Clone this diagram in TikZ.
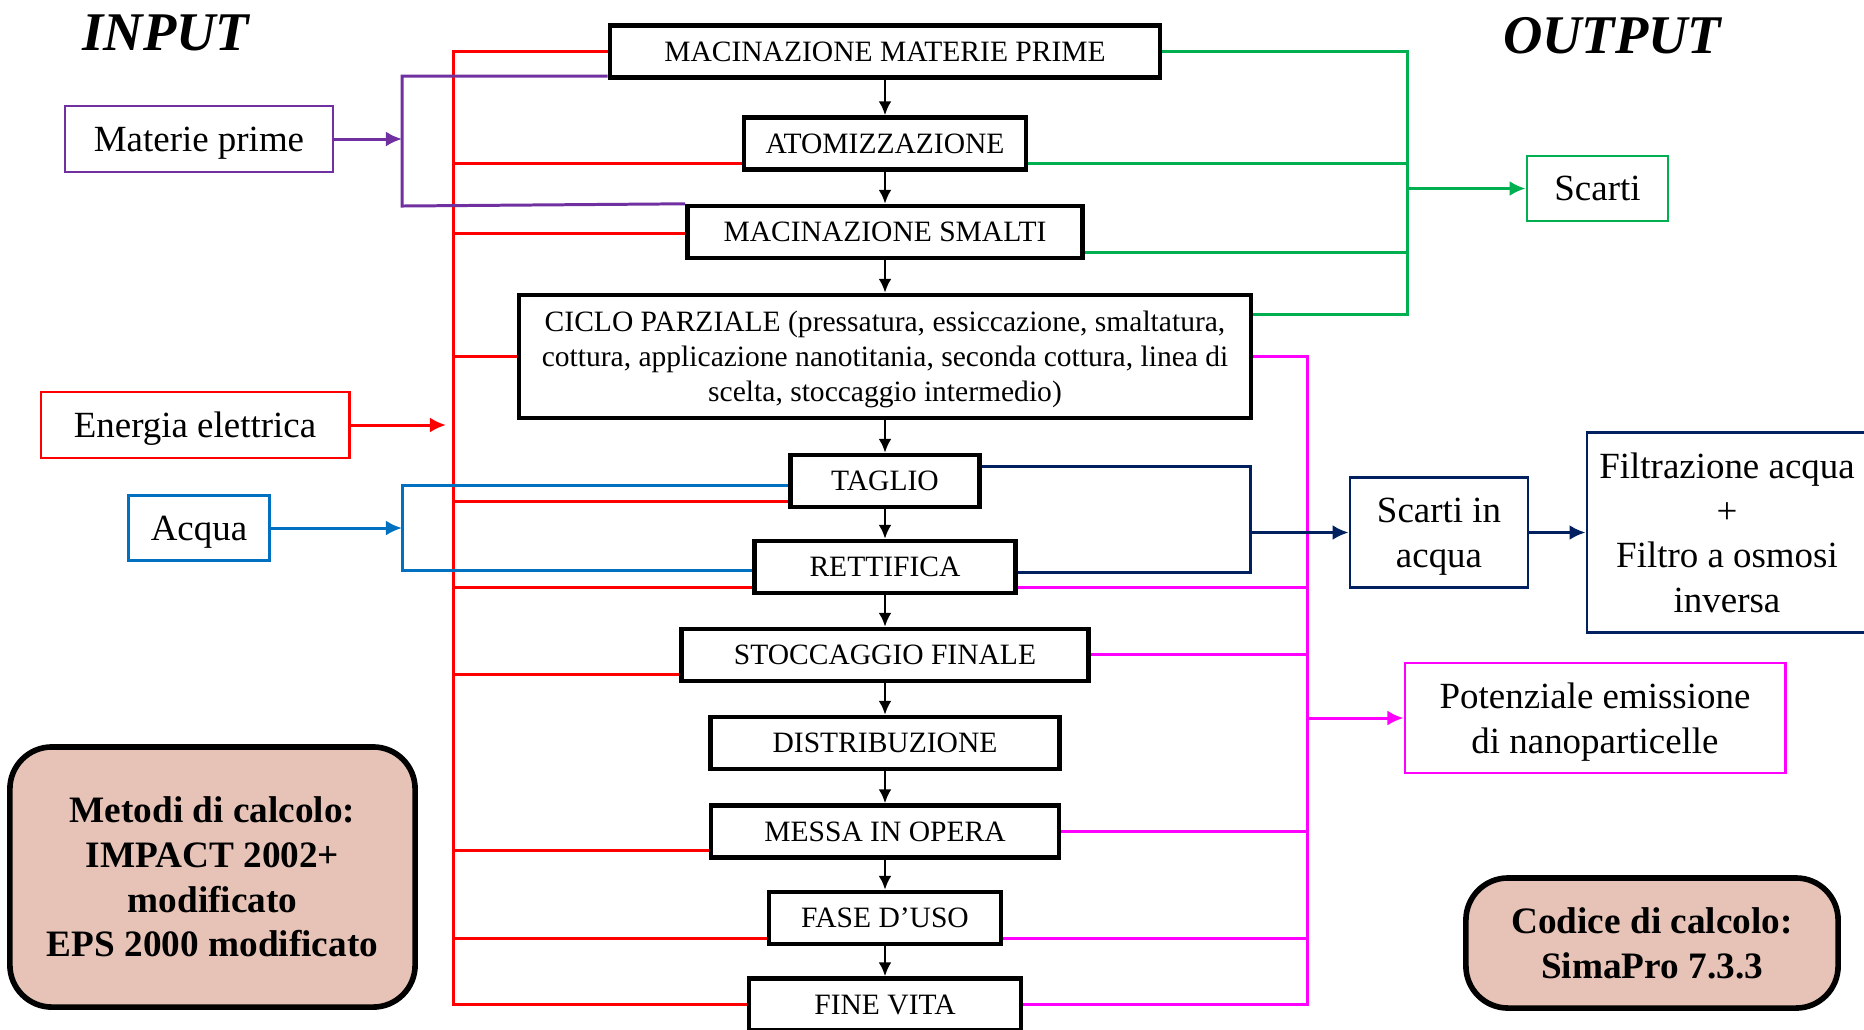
\documentclass[tikz,border=0pt]{standalone}
\usepackage{fontspec}
\setmainfont{Liberation Serif}
\usepackage{xcolor}
\usetikzlibrary{arrows.meta,positioning,calc}
\definecolor{ered}{RGB}{255,0,0}
\definecolor{matviolet}{RGB}{112,48,160}
\definecolor{wblue}{RGB}{0,112,192}
\definecolor{sgreen}{RGB}{0,176,80}
\definecolor{navy}{RGB}{0,32,96}
\definecolor{nmagenta}{RGB}{255,0,255}
\definecolor{boxrose}{RGB}{230,195,182}

\begin{document}
\begin{tikzpicture}[x=0.01cm,y=-0.01cm,
	phase/.style={draw,line width=1.25pt,minimum height=0.52cm,inner sep=0pt,text depth=0pt,font=\fontsize{8.4}{10}\selectfont},
	sidebox/.style={draw,line width=0.8pt,inner sep=0pt,text depth=0pt,align=center,font=\fontsize{10.5}{12.7}\selectfont},
	calcbox/.style={draw,line width=1.6pt,rounded corners=0.42cm,fill=boxrose,inner sep=0pt,align=center,font=\bfseries\fontsize{10.6}{12.7}\selectfont},
	title/.style={font=\bfseries\itshape\fontsize{15.5}{18}\selectfont},
	flow/.style={-{Latex[length=1.4mm,width=1.3mm]},line width=0.8pt},
	feed/.style={line width=0.85pt},
	tip/.style={-{Latex[length=1.6mm,width=1.5mm]}}]
	\useasboundingbox (0,0) rectangle (1864,1029);
	
	\node[title] (input) at (166,33) {INPUT};
	\node[title] (output) at (1612,36) {OUTPUT};
	
	% process chain
	\node[phase,minimum width=5.5cm] (mmp) at (885,51.5) {MACINAZIONE MATERIE PRIME};
	\node[phase,minimum width=2.82cm] (atom) at (885,143.5) {ATOMIZZAZIONE};
	\node[phase,minimum width=3.95cm] (smalti) at (885,232) {MACINAZIONE SMALTI};
	\node[phase,minimum width=7.31cm,minimum height=1.23cm,align=center] (ciclo) at (885,356.5) {CICLO PARZIALE (pressatura, essiccazione, smaltatura,\\cottura, applicazione nanotitania, seconda cottura, linea di\\scelta, stoccaggio intermedio)};
	\node[phase,minimum width=1.89cm] (taglio) at (885,481) {TAGLIO};
	\node[phase,minimum width=2.61cm] (rett) at (885,567) {RETTIFICA};
	\node[phase,minimum width=4.07cm] (stocc) at (885,655) {STOCCAGGIO FINALE};
	\node[phase,minimum width=3.49cm] (distr) at (885,743) {DISTRIBUZIONE};
	\node[phase,minimum width=3.48cm] (messa) at (885,831.5) {MESSA IN OPERA};
	\node[phase,minimum width=2.32cm] (fase) at (885,918) {FASE D’USO};
	\node[phase,minimum width=2.72cm] (fine) at (885,1004.5) {FINE VITA};
	
	\foreach \a/\b in {mmp/atom,atom/smalti,smalti/ciclo,ciclo/taglio,taglio/rett,rett/stocc,stocc/distr,distr/messa,messa/fase,fase/fine}
		\draw[flow] (\a) -- (\b);
	
	% inputs
	\node[sidebox,draw=matviolet,minimum width=2.68cm,minimum height=0.66cm] (mat) at (199,139) {Materie prime};
	\node[sidebox,draw=ered,minimum width=3.08cm,minimum height=0.66cm] (energia) at (195,425) {Energia elettrica};
	\node[sidebox,draw=wblue,minimum width=1.41cm,minimum height=0.65cm] (acqua) at (199,528) {Acqua};
	\node[calcbox,minimum width=4.05cm,minimum height=2.6cm] (metodi) at (212.5,877) {Metodi di calcolo:\\IMPACT 2002+\\modificato\\EPS 2000 modificato};
	
	% outputs
	\node[sidebox,draw=sgreen,minimum width=1.41cm,minimum height=0.65cm] (scarti) at (1597.5,188.5) {Scarti};
	\node[sidebox,draw=navy,minimum width=1.78cm,minimum height=1.1cm] (scacq) at (1439,532.5) {Scarti in\\acqua};
	\node[sidebox,draw=navy,minimum width=2.8cm,minimum height=2cm] (filtr) at (1727,532.5) {Filtrazione acqua\\+\\Filtro a osmosi\\inversa};
	\node[sidebox,draw=nmagenta,minimum width=3.8cm,minimum height=1.1cm] (poten) at (1595,718) {Potenziale emissione\\di nanoparticelle};
	\node[calcbox,minimum width=3.72cm,minimum height=1.3cm] (codice) at (1652,943) {Codice di calcolo:\\SimaPro 7.3.3};
	
	% electricity bus
	\coordinate (etop) at (453,51.5);
	\draw[feed,ered] (mmp.west) -- (etop) |- (fine.west);
	\foreach \n/\yy in {atom/163,smalti/233,ciclo/356.5,taglio/501,rett/587,stocc/674,messa/850,fase/938}
		\draw[feed,ered] (etop |- 0,\yy) -- (\n.west |- 0,\yy);
	\draw[feed,ered,tip] (energia.east) -- ([xshift=-2pt]energia.east -| etop);
	
	% raw materials
	\coordinate (mbot) at (402,206);
	\draw[feed,matviolet] (mmp.west |- 0,76) -| (mbot) -- (smalti.north west);
	\draw[feed,matviolet,tip] (mat.east) -- (mat.east -| mbot);
	
	% water
	\coordinate (wbot) at (402,570);
	\draw[feed,wblue] (taglio.west |- 0,485) -| (wbot) -- (rett.west |- wbot);
	\draw[feed,wblue,tip] (acqua.east) -- (acqua.east -| wbot);
	
	% scraps
	\coordinate (gbus) at (1407,314);
	\draw[feed,sgreen] (mmp.east) -| (gbus) -- (ciclo.east |- gbus);
	\draw[feed,sgreen] (atom.east |- 0,163) -- (gbus |- 0,163);
	\draw[feed,sgreen] (smalti.east |- 0,252) -- (gbus |- 0,252);
	\draw[feed,sgreen,tip] (gbus |- scarti.west) -- (scarti.west);
	
	% nanoparticles
	\coordinate (pbus) at (1307,1004.5);
	\draw[feed,nmagenta] (ciclo.east) -| (pbus) -- (fine.east);
	\foreach \n/\yy in {rett/587,stocc/654,messa/831,fase/938}
		\draw[feed,nmagenta] (\n.east |- 0,\yy) -- (pbus |- 0,\yy);
	\draw[feed,nmagenta,tip] (pbus |- poten.west) -- (poten.west);
	
	% waste water
	\coordinate (nbus) at (1250,572);
	\draw[feed,navy] (taglio.east |- 0,466) -| (nbus) -- (rett.east |- nbus);
	\draw[feed,navy,tip] (nbus |- scacq.west) -- (scacq.west);
	\draw[feed,navy,tip] (scacq.east) -- (filtr.west);
\end{tikzpicture}
\end{document}
